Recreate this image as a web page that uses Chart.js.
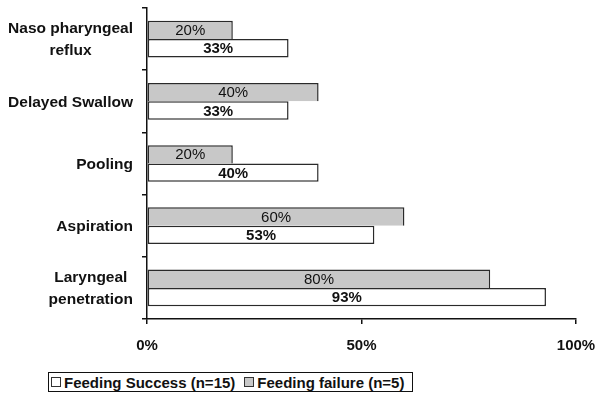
<!DOCTYPE html>
<html>
<head>
<meta charset="utf-8">
<script src="https://cdn.jsdelivr.net/npm/chart.js@4/dist/chart.umd.min.js"></script>
<style>
  html, body { margin: 0; padding: 0; background: #fff; }
  #wrap { position: relative; width: 602px; height: 408px; }
  #legend {
    position: absolute; left: 48px; top: 372px; width: 363px; height: 18px;
    border: 1px solid #111; background: #fff;
    font: bold 15px "Liberation Sans", Arial, sans-serif; color: #111;
    display: flex; align-items: center; white-space: nowrap;
  }
  #legend .item { display: flex; align-items: center; margin-left: 2px; margin-right: 7px; }
  #legend .sw { width: 8px; height: 8px; border: 1px solid #333; margin-right: 3px; }
</style>
</head>
<body>
<div id="wrap">
  <canvas id="c" width="602" height="408"></canvas>
  <div id="legend"></div>
</div>
<script>
/* ---- data ---- */
const categories = [
  ["Naso pharyngeal", "reflux"],
  ["Delayed Swallow"],
  ["Pooling"],
  ["Aspiration"],
  ["Laryngeal", "penetration"]
];
const failureValues = [20, 40, 20, 60, 80];
const successValues = [33, 33, 40, 53, 93];
const xTicks = [0, 50, 100];
const seriesNames = ["Feeding Success (n=15)", "Feeding failure (n=5)"];

const FONT = '"Liberation Sans", Arial, sans-serif';
const GRAY = "#c8c8c8";
const EDGE = "#2a2a2a";

/* value labels centred in each bar */
const barLabels = {
  id: "barLabels",
  afterDatasetsDraw(chart) {
    const ctx = chart.ctx;
    chart.data.datasets.forEach((ds, i) => {
      const meta = chart.getDatasetMeta(i);
      meta.data.forEach((bar, j) => {
        ctx.save();
        ctx.font = (ds.labelBold ? "bold " : "") + "15px " + FONT;
        ctx.fillStyle = "#111";
        ctx.textAlign = "center";
        ctx.textBaseline = "middle";
        ctx.fillText(ds.data[j] + "%", (bar.x + bar.base) / 2, bar.y + 1);
        ctx.restore();
      });
    });
  }
};

/* category labels: lines centred on each other, block right aligned */
const catLabels = {
  id: "catLabels",
  afterDraw(chart) {
    const ctx = chart.ctx;
    const y = chart.scales.y;
    const right = 133, lh = 22;
    ctx.save();
    ctx.font = "bold 15.5px " + FONT;
    ctx.fillStyle = "#111";
    ctx.textAlign = "center";
    ctx.textBaseline = "middle";
    categories.forEach((lines, i) => {
      const w = Math.max(...lines.map(l => ctx.measureText(l).width));
      const cx = right - w / 2;
      const cy = y.getPixelForTick(i) + 1;
      lines.forEach((l, k) => {
        ctx.fillText(l, cx, cy + (k - (lines.length - 1) / 2) * lh);
      });
    });
    ctx.restore();
  }
};

const chart = new Chart(document.getElementById("c"), {
  type: "bar",
  data: {
    labels: categories.map(c => c.join(" ")),
    datasets: [
      { label: seriesNames[1], data: failureValues, backgroundColor: GRAY,
        borderColor: EDGE, borderWidth: 1.5, borderSkipped: "bottom", labelBold: false },
      { label: seriesNames[0], data: successValues, backgroundColor: "#fff",
        borderColor: EDGE, borderWidth: 1.5, borderSkipped: false, labelBold: true }
    ]
  },
  options: {
    indexAxis: "y",
    responsive: false,
    animation: false,
    devicePixelRatio: 1,
    layout: { padding: { top: 8, right: 26, left: 0, bottom: 0 } },
    datasets: { bar: { categoryPercentage: 0.59, barPercentage: 1 } },
    plugins: { legend: { display: false }, tooltip: { enabled: false } },
    scales: {
      x: {
        min: 0, max: 100,
        afterBuildTicks: s => { s.ticks = xTicks.map(v => ({ value: v })); },
        afterFit: s => { s.height = 89; s.paddingLeft = 0; s.paddingRight = 0; },
        grid: { drawOnChartArea: false, drawTicks: true, tickLength: 5, color: "#111", lineWidth: 1.5 },
        border: { display: true, color: "#111", width: 1.5 },
        ticks: { padding: 13, color: "#111", font: { family: FONT, size: 15, weight: "bold" },
                 callback: v => v + "%" }
      },
      y: {
        afterFit: s => { s.width = 147; s.paddingTop = 0; s.paddingBottom = 0; },
        grid: { drawOnChartArea: false, drawTicks: true, tickLength: 5, color: "#111", lineWidth: 1.5 },
        border: { display: true, color: "#111", width: 1.5 },
        ticks: { color: "rgba(0,0,0,0)", font: { family: FONT, size: 15, weight: "bold" } }
      }
    }
  },
  plugins: [barLabels, catLabels]
});

/* legend */
const legendEl = document.getElementById("legend");
[[seriesNames[0], "#fff"], [seriesNames[1], GRAY]].forEach(([name, col]) => {
  const it = document.createElement("span");
  it.className = "item";
  it.innerHTML = `<span class="sw" style="background:${col}"></span>${name}`;
  legendEl.appendChild(it);
});
</script>
</body>
</html>
